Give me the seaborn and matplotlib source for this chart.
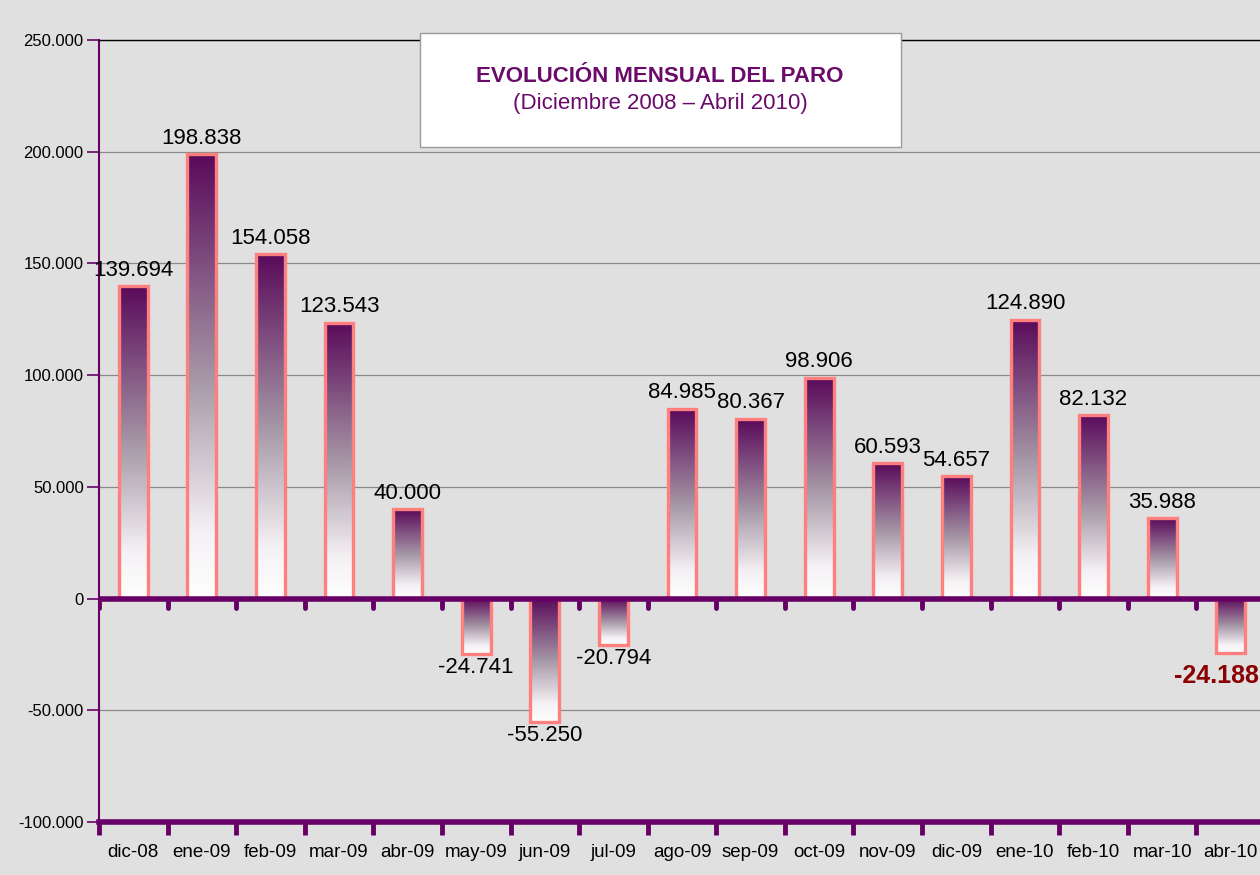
import numpy as np
import pandas as pd
import matplotlib
matplotlib.use("Agg")
import matplotlib.pyplot as plt
import seaborn as sns
from matplotlib.colors import LinearSegmentedColormap
from matplotlib.patches import Rectangle

# ---- data ----
months = ["dic-08", "ene-09", "feb-09", "mar-09", "abr-09", "may-09", "jun-09",
          "jul-09", "ago-09", "sep-09", "oct-09", "nov-09", "dic-09", "ene-10",
          "feb-10", "mar-10", "abr-10"]
values = [139694, 198838, 154058, 123543, 40000, -24741, -55250, -20794,
          84985, 80367, 98906, 60593, 54657, 124890, 82132, 35988, -24188]
y_ticks = [-100000, -50000, 0, 50000, 100000, 150000, 200000, 250000]
title = "EVOLUCIÓN MENSUAL DEL PARO"
subtitle = "(Diciembre 2008 – Abril 2010)"

# ---- style ----
sns.set_theme(style="white")
plt.rcParams['font.family'] = ['Liberation Sans', 'DejaVu Sans']

BG = '#e0e0e0'
PURPLE = '#660066'
EDGE = '#ff7f7f'

fig = plt.figure(figsize=(12.6, 8.75), dpi=100, facecolor=BG)
ax = fig.add_axes([99 / 1260, 1 - 822 / 875, (1265 - 99) / 1260, (822 - 40) / 875])
ax.set_facecolor(BG)

df = pd.DataFrame({'mes': months, 'valor': values})
sns.barplot(data=df, x='mes', y='valor', ax=ax, width=0.42, color='white',
            edgecolor=EDGE, linewidth=2.4, zorder=3)

cmap = LinearSegmentedColormap.from_list(
    'grad', [(0.0, '#5a0a5a'), (0.5, '#a596a5'), (0.85, '#f4f1f4'), (1.0, '#ffffff')])
grad = np.linspace(0, 1, 256).reshape(-1, 1)

for p in ax.patches:
    x0 = p.get_x()
    w = p.get_width()
    y0 = p.get_y()
    h = p.get_height()
    top = max(y0, y0 + h)
    bot = min(y0, y0 + h)
    ax.imshow(grad, extent=[x0, x0 + w, bot, top], aspect='auto', cmap=cmap,
              origin='upper', zorder=2.9, interpolation='bilinear')
    p.set_facecolor('none')

ax.set_xlim(-0.5, len(months) - 0.5)
ax.set_ylim(y_ticks[0], y_ticks[-1])
ax.set_aspect('auto')

# grid
ax.set_axisbelow(True)
ax.yaxis.grid(True, color='#8a8a8a', lw=0.9)
ax.xaxis.grid(False)

# y axis
ax.set_yticks(y_ticks)
ax.set_yticklabels([f"{v:,.0f}".replace(',', '.') for v in y_ticks])
ax.tick_params(axis='y', length=9, width=1.2, color=PURPLE, labelsize=12,
               pad=2, left=True, labelcolor='black')

# x axis
ax.set_xlabel('')
ax.set_ylabel('')
ax.set_xticks(range(len(months)))
ax.set_xticklabels(months)
ax.set_xticks(np.arange(-0.5, len(months), 1), minor=True)
ax.tick_params(axis='x', which='major', length=0, pad=16, labelsize=13.5, labelcolor='black')
ax.tick_params(axis='x', which='minor', length=9, width=3.5, color=PURPLE,
               direction='out', bottom=True)

# spines
ax.spines['bottom'].set_color(PURPLE)
ax.spines['bottom'].set_linewidth(4)
ax.spines['left'].set_color(PURPLE)
ax.spines['left'].set_linewidth(1.5)
ax.spines['top'].set_color('black')
ax.spines['top'].set_linewidth(1)
ax.spines['right'].set_visible(False)

# zero line with tick marks
ax.axhline(0, color=PURPLE, lw=4, zorder=4)
lc = ax.vlines(np.arange(-0.5, len(months), 1), 0, -4300, color=PURPLE, lw=3.5, zorder=4)
lc.set_capstyle('round')

# value labels
for i, v in enumerate(values):
    txt = f"{v:,.0f}".replace(',', '.')
    last = (i == len(values) - 1)
    if v >= 0:
        ax.annotate(txt, (i, v), xytext=(0, 4), textcoords='offset points',
                    ha='center', va='bottom', fontsize=16, color='black', zorder=6)
    elif last:
        ax.annotate(txt, (i, v), xytext=(-10, -8), textcoords='offset points',
                    ha='center', va='top', fontsize=18, fontweight='bold',
                    color='#8b0000', zorder=6, annotation_clip=False)
    else:
        ax.annotate(txt, (i, v), xytext=(0, -2), textcoords='offset points',
                    ha='center', va='top', fontsize=16, color='black', zorder=6)

# title box
fig.add_artist(Rectangle((420 / 1260, 1 - 147 / 875), 481 / 1260, 114 / 875,
                         transform=fig.transFigure, facecolor='white',
                         edgecolor='#9a9a9a', lw=1, zorder=5))
fig.text(660 / 1260, 1 - 76 / 875, title, ha='center', va='center', fontsize=16,
         fontweight='bold', color='#6a0a6a', zorder=6)
fig.text(660 / 1260, 1 - 103 / 875, subtitle, ha='center', va='center', fontsize=16,
         color='#6a0a6a', zorder=6)

fig.savefig('out.png', dpi=100, facecolor=BG)
